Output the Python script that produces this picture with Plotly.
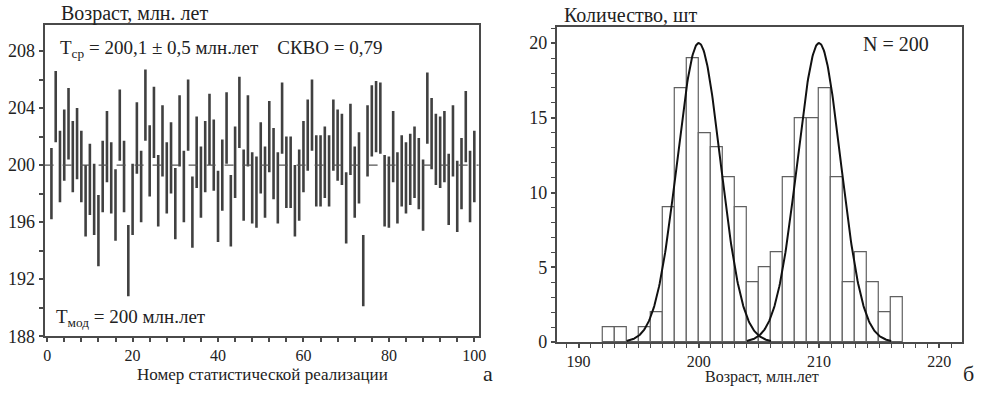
import plotly.graph_objects as go

# ---- panel (a): model ages for each statistical realisation ----
realisation = list(range(1, 101))
age_centre = [
    198.7, 204.1, 199.9, 201.4, 202.9, 200.6, 201.5, 199.9, 197.5, 199.0,
    197.6, 195.4, 199.2, 201.3, 199.1, 197.2, 202.8, 199.2, 193.3, 197.6,
    201.9, 198.5, 204.2, 200.3, 203.0, 198.2, 201.7, 199.1, 200.5, 197.3,
    202.4, 198.5, 203.5, 196.7, 200.9, 198.8, 200.6, 202.5, 200.7, 197.1,
    199.3, 202.6, 196.8, 200.2, 203.7, 198.6, 202.4, 198.4, 198.1, 200.5,
    198.8, 202.0, 200.1, 198.4, 203.3, 199.5, 199.5, 197.5, 198.6, 200.6,
    202.1, 203.5, 199.6, 199.6, 200.2, 199.6, 202.1, 201.4, 201.1, 197.0,
    201.8, 198.8, 199.8, 192.6, 201.7, 203.1, 203.4, 203.3, 198.2, 198.1,
    201.3, 198.4, 199.6, 199.1, 199.7, 200.2, 199.4, 197.9, 204.0, 202.2,
    201.1, 200.9, 201.3, 198.3, 201.7, 197.8, 199.4, 202.7, 198.5, 199.9,
]
age_error = 2.5          # half-length of every interval, млн. лет
model_age = 200

# ---- panel (б): histogram of ages ----
bin_left = list(range(192, 217))
bin_count = [1, 1, 0, 1, 2, 9, 17, 19, 14, 13, 11, 9, 4, 5, 6,
             11, 15, 15, 17, 11, 4, 6, 4, 2, 3]
peak_mean = [200, 210]
peak_height = [20, 20]
peak_sigma = [1.8, 1.8]

W, H = 985, 393
FONT = "Liberation Serif, Times New Roman, serif"
INK = "#222222"
FRAME = "#4a4a4a"


def px(x):
    return x / W


def py(y):
    return 1 - y / H


fig = go.Figure()

# intervals drawn as symmetric error bars without caps
fig.add_trace(go.Scatter(
    x=realisation, y=age_centre, mode="markers",
    marker=dict(size=1, color="rgba(0,0,0,0)"),
    error_y=dict(type="constant", value=age_error, width=0,
                 thickness=2.6, color="#404040"),
    xaxis="x", yaxis="y", showlegend=False, hoverinfo="skip",
))

# histogram bars
fig.add_trace(go.Bar(
    x=[b + 0.5 for b in bin_left], y=bin_count, width=1,
    marker=dict(color="white", line=dict(color="#606060", width=1.2)),
    xaxis="x2", yaxis="y2", showlegend=False, hoverinfo="skip",
))

# normal curves over each peak
for m, a, s in zip(peak_mean, peak_height, peak_sigma):
    xs = [m - 6 + k * 0.05 for k in range(241)]
    ys = [a * pow(2.718281828459045, -((x - m) ** 2) / (2 * s * s)) for x in xs]
    fig.add_trace(go.Scatter(
        x=xs, y=ys, mode="lines", line=dict(color="#111111", width=2),
        xaxis="x2", yaxis="y2", showlegend=False, hoverinfo="skip",
    ))

axis_common = dict(
    showline=True, linecolor=FRAME, linewidth=2, mirror=True,
    showgrid=False, zeroline=False, ticks="outside", ticklen=4,
    tickwidth=1.5, tickcolor=FRAME,
)
x_font = dict(family=FONT, size=16, color=INK)
y_font = dict(family=FONT, size=18, color=INK)

fig.update_layout(
    width=W, height=H,
    margin=dict(l=0, r=0, t=0, b=0),
    paper_bgcolor="white", plot_bgcolor="white",
    font=dict(family=FONT, color=INK),
    bargap=0,
    xaxis=dict(domain=[px(44), px(482)], range=[-0.6, 101], anchor="y",
               tickmode="linear", tick0=0, dtick=20, ticklabelstandoff=0,
               tickfont=x_font,
               minor=dict(dtick=4, tick0=0, ticks="outside", ticklen=4,
                          tickwidth=1.5, tickcolor=FRAME, showgrid=False),
               **axis_common),
    yaxis=dict(domain=[py(345), py(26)], range=[188, 209.8], anchor="x",
               tickmode="linear", tick0=188, dtick=4, tickfont=y_font,
               minor=dict(dtick=2, tick0=188, ticks="outside", ticklen=4,
                          tickwidth=1.5, tickcolor=FRAME, showgrid=False),
               **axis_common),
    xaxis2=dict(domain=[px(561), px(970)], range=[188.2, 221.9], anchor="y2",
                tickmode="linear", tick0=190, dtick=10, ticklabelstandoff=0,
                tickfont=x_font,
                minor=dict(dtick=1, tick0=190, ticks="outside", ticklen=4,
                           tickwidth=1.2, tickcolor=FRAME, showgrid=False),
                **axis_common),
    yaxis2=dict(domain=[py(351), py(28)], range=[0, 21.06], anchor="x2",
                tickmode="linear", tick0=0, dtick=5, tickfont=y_font,
                minor=dict(dtick=1, tick0=0, ticks="outside", ticklen=4,
                           tickwidth=1.2, tickcolor=FRAME, showgrid=False),
                **axis_common),
)

# dashed reference line at the model age
fig.add_shape(type="line", xref="x domain", yref="y", x0=0, x1=1,
              y0=model_age, y1=model_age,
              line=dict(color="#555555", width=1.2, dash="dash"))

NB = "\u00a0"
notes = [
    ("Возраст, млн. лет", 60, 14, "left", 20),
    ("T<sub>ср</sub> = 200,1 ± 0,5 млн.лет" + NB * 4 + "СКВО = 0,79", 59, 50, "left", 19),
    ("T<sub>мод</sub> = 200 млн.лет", 54, 326, "left", 19),
    ("Номер статистической реализации", 264, 384, "center", 17),
    ("а", 491, 383, "center", 22),
    ("Количество, шт", 567, 15, "left", 20),
    ("N = 200", 903, 45, "center", 20),
    ("Возраст, млн.лет", 768, 387, "center", 16),
    ("б", 976, 383, "center", 22),
]
for text, x, y, anchor, size in notes:
    fig.add_annotation(text=text, xref="paper", yref="paper",
                       x=px(x), y=py(y), xanchor=anchor, yanchor="middle",
                       showarrow=False, borderpad=0,
                       font=dict(family=FONT, size=size, color=INK))

fig.write_html("out.html")
